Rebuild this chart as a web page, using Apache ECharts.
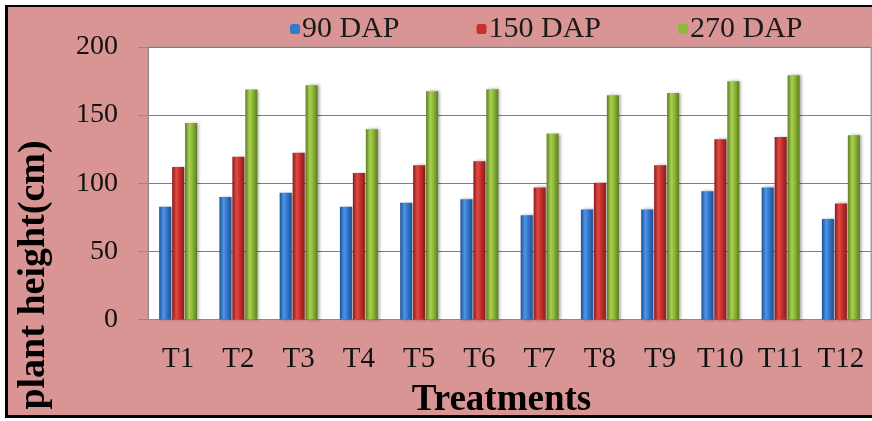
<!DOCTYPE html>
<html>
<head>
<meta charset="utf-8">
<script src="https://cdn.jsdelivr.net/npm/echarts@6/dist/echarts.min.js"></script>
<style>
html,body{margin:0;padding:0;background:#ffffff;width:872px;height:421px;overflow:hidden;position:relative;}
#frame{position:absolute;left:5px;top:5px;width:880px;height:413px;background:#D99594;border-left:3px solid #000;border-top:2px solid #000;border-bottom:3px solid #000;box-sizing:border-box;}
#chart{position:absolute;left:0;top:0;width:872px;height:421px;}
</style>
</head>
<body>
<div id="frame"></div>
<div id="chart"></div>
<script>
const categories = ['T1','T2','T3','T4','T5','T6','T7','T8','T9','T10','T11','T12'];
const seriesNames = ['90 DAP','150 DAP','270 DAP'];
const dap90  = [82.7, 90.0, 93.0, 82.7, 85.6, 88.3, 76.6, 80.8, 80.8, 94.2, 96.9, 73.7];
const dap150 = [112.0, 119.4, 122.3, 107.6, 113.3, 116.2, 96.9, 100.3, 113.3, 132.3, 134.0, 85.2];
const dap270 = [144.3, 168.8, 171.9, 139.7, 167.5, 169.0, 136.5, 164.6, 166.3, 174.9, 179.3, 135.3];
const yTicks = [0, 50, 100, 150, 200];

const FONT = "'Liberation Serif', 'Times New Roman', serif";
function grad(edge, mid, light) {
  return new echarts.graphic.LinearGradient(0, 0, 1, 0, [
    {offset: 0, color: edge},
    {offset: 0.35, color: light},
    {offset: 0.6, color: mid},
    {offset: 1, color: edge}
  ]);
}
const colors = [
  grad('#1d4f94', '#3479cf', '#4f95e6'),
  grad('#8a1b1b', '#c9302d', '#e04a45'),
  grad('#5b7d1c', '#8fb83a', '#a8d052')
];
const solid = ['#3479cf', '#c9302d', '#8fb83a'];
const data = [dap90, dap150, dap270];

const chart = echarts.init(document.getElementById('chart'), null, {renderer: 'canvas'});
chart.setOption({
  backgroundColor: 'transparent',
  animation: false,
  textStyle: {fontFamily: FONT},
  legend: {
    data: seriesNames.map((n, i) => ({name: n, itemStyle: {color: solid[i]}})),
    left: 285,
    top: 9,
    itemWidth: 10,
    itemHeight: 10,
    itemGap: 77,
    textStyle: {fontFamily: FONT, fontSize: 30, color: '#1a1a1a', padding: [0, 0, 0, -3]}
  },
  grid: {
    left: 148, right: 1, top: 47, bottom: 101.5,
    containLabel: false,
    outerBoundsMode: 'none',
    show: true, backgroundColor: '#ffffff', borderColor: '#9a9a9a', borderWidth: 1
  },
  xAxis: {
    type: 'category',
    data: categories,
    axisLine: {lineStyle: {color: '#8a8a8a', width: 1}},
    axisTick: {show: false},
    axisLabel: {fontFamily: FONT, fontSize: 29, color: '#111', margin: 25, interval: 0},
    name: 'Treatments',
    nameLocation: 'middle',
    nameGap: 62,
    nameTextStyle: {fontFamily: FONT, fontSize: 37, fontWeight: 'bold', color: '#000', lineHeight: 37, padding: [0, 16, 0, 0]}
  },
  yAxis: {
    type: 'value',
    min: yTicks[0],
    max: yTicks[yTicks.length - 1],
    interval: 50,
    axisLine: {show: true, lineStyle: {color: '#8a8a8a', width: 1}},
    axisTick: {show: true, length: 10, lineStyle: {color: '#8a8a8a'}},
    axisLabel: {fontFamily: FONT, fontSize: 28, color: '#111', margin: 30},
    splitLine: {lineStyle: {color: '#7f7f7f', width: 1}}
  },
  graphic: [{
    type: 'text',
    x: 34, y: 275,
    rotation: Math.PI / 2,
    style: {
      text: 'plant height(cm)',
      font: "bold 38px 'Liberation Serif', 'Times New Roman', serif",
      fill: '#000',
      textAlign: 'center',
      textVerticalAlign: 'middle'
    }
  }],
  series: seriesNames.map((name, i) => ({
    name: name,
    type: 'bar',
    data: data[i],
    barWidth: 12,
    barGap: '8%',
    itemStyle: {
      color: colors[i],
      shadowBlur: 3,
      shadowOffsetX: 2,
      shadowOffsetY: 0,
      shadowColor: 'rgba(0,0,0,0.35)'
    }
  }))
});
</script>
</body>
</html>
